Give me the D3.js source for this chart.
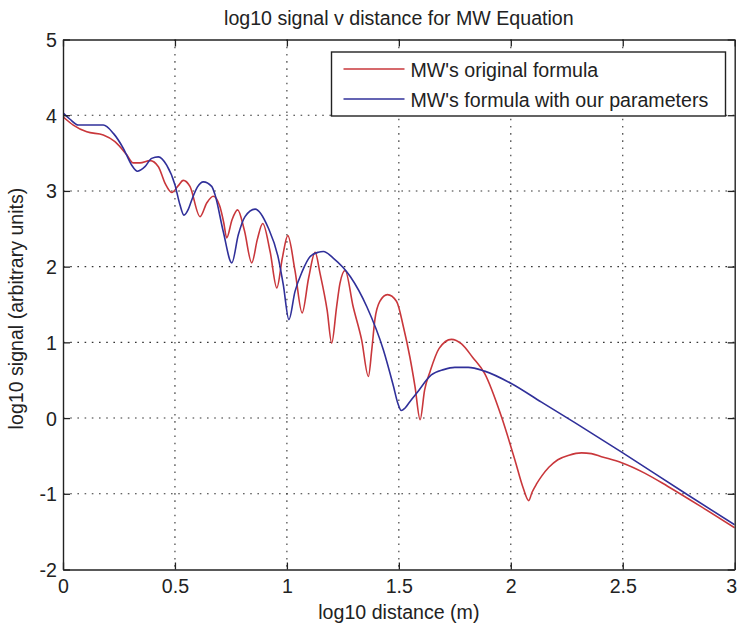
<!DOCTYPE html>
<html><head><meta charset="utf-8">
<script src="https://cdn.jsdelivr.net/npm/d3@7"></script>
<style>
html,body{margin:0;padding:0;background:#fff;}
svg{display:block;font-family:"Liberation Sans",Arial,sans-serif;}
</style></head>
<body>
<svg id="chart" width="738" height="627"></svg>
<script>
// ---- data ----
const title = "log10 signal v distance for MW Equation";
const xLabel = "log10 distance (m)";
const yLabel = "log10 signal (arbitrary units)";
const seriesNames = ["MW's original formula", "MW's formula with our parameters"];
const xTicks = [0, 0.5, 1, 1.5, 2, 2.5, 3];
const xTickLabels = ["0", "0.5", "1", "1.5", "2", "2.5", "3"];
const yTicks = [-2, -1, 0, 1, 2, 3, 4, 5];
const yTickLabels = ["-2", "-1", "0", "1", "2", "3", "4", "5"];

const redX = [0.00,0.046,0.106,0.18,0.232,0.284,0.314,0.344,0.389,0.426,0.456,0.486,0.515,0.537,0.567,0.612,0.642,0.671,0.70,0.718,0.731,0.755,0.78,0.81,0.843,0.868,0.892,0.925,0.955,0.98,1.004,1.036,1.068,1.097,1.126,1.148,1.18,1.20,1.222,1.237,1.26,1.296,1.334,1.364,1.379,1.393,1.415,1.449,1.49,1.52,1.549,1.572,1.595,1.615,1.64,1.68,1.735,1.78,1.83,1.883,1.958,2.018,2.055,2.08,2.095,2.115,2.137,2.17,2.21,2.26,2.316,2.36,2.405,2.495,2.60,2.70,2.85,3.00];
const redY = [3.98,3.87,3.78,3.74,3.65,3.48,3.37,3.37,3.40,3.32,3.10,2.98,3.07,3.14,3.06,2.66,2.84,2.93,2.80,2.58,2.38,2.62,2.75,2.48,2.05,2.36,2.57,2.20,1.72,2.12,2.41,1.95,1.39,1.85,2.19,1.91,1.42,0.99,1.47,1.78,1.95,1.47,1.03,0.55,0.90,1.30,1.54,1.63,1.54,1.21,0.81,0.42,-0.02,0.37,0.62,0.92,1.04,0.98,0.80,0.59,0.02,-0.55,-0.92,-1.09,-0.98,-0.87,-0.77,-0.65,-0.55,-0.49,-0.46,-0.47,-0.51,-0.59,-0.73,-0.90,-1.17,-1.45];

const blueX = [0.00,0.03,0.068,0.12,0.18,0.225,0.27,0.307,0.332,0.366,0.396,0.426,0.463,0.50,0.522,0.54,0.56,0.575,0.60,0.627,0.664,0.679,0.716,0.754,0.783,0.813,0.858,0.917,0.962,0.984,1.009,1.036,1.069,1.103,1.14,1.163,1.208,1.283,1.357,1.431,1.476,1.495,1.511,1.527,1.55,1.58,1.645,1.70,1.75,1.81,1.883,2.00,2.137,2.286,2.495,2.777,3.00];
const blueY = [4.03,3.95,3.87,3.87,3.87,3.76,3.56,3.34,3.26,3.32,3.43,3.45,3.34,3.08,2.82,2.68,2.76,2.88,3.05,3.12,3.06,2.95,2.46,2.05,2.42,2.66,2.76,2.51,2.11,1.76,1.30,1.67,1.94,2.13,2.19,2.20,2.11,1.87,1.47,0.90,0.42,0.20,0.10,0.13,0.22,0.33,0.57,0.64,0.67,0.67,0.62,0.46,0.21,-0.06,-0.45,-0.99,-1.41];

const seriesColors = ["#c9373b", "#30309a"];

// ---- layout ----
const svg = d3.select("#chart");
const X0 = 63, X1 = 734.7, Y0 = 39.5, Y1 = 569.5;
const FS = 19.6;
const x = d3.scaleLinear().domain([0, 3]).range([X0, X1]);
const y = d3.scaleLinear().domain([-2, 5]).range([Y1, Y0]);

svg.append("rect").attr("x",0).attr("y",0).attr("width",738).attr("height",627).attr("fill","#fff");

// grid
const grid = svg.append("g").attr("stroke","#333").attr("stroke-width",1.1).attr("stroke-dasharray","1.6,5.6");
grid.selectAll("line.gx").data(xTicks.filter(v => v > 0 && v < 3)).enter().append("line")
  .attr("x1", d => x(d)).attr("x2", d => x(d)).attr("y1", Y0).attr("y2", Y1);
grid.selectAll("line.gy").data(yTicks.filter(v => v > -2 && v < 5)).enter().append("line")
  .attr("y1", d => y(d)).attr("y2", d => y(d)).attr("x1", X0).attr("x2", X1);

// lines
svg.append("defs").append("clipPath").attr("id","clip").append("rect")
  .attr("x", X0).attr("y", Y0).attr("width", X1 - X0).attr("height", Y1 - Y0);
const line = d3.line().x(d => x(d[0])).y(d => y(d[1])).curve(d3.curveMonotoneX);
const redData = redX.map((v,i) => [v, redY[i]]);
const blueData = blueX.map((v,i) => [v, blueY[i]]);
const lg = svg.append("g").attr("clip-path","url(#clip)");
lg.append("path").datum(redData).attr("d", line).attr("fill","none")
  .attr("stroke", seriesColors[0]).attr("stroke-width",1.6).attr("stroke-linejoin","round");
lg.append("path").datum(blueData).attr("d", line).attr("fill","none")
  .attr("stroke", seriesColors[1]).attr("stroke-width",1.6).attr("stroke-linejoin","round");

// axes
function styleAxis(g) {
  g.selectAll(".domain").attr("stroke","#222").attr("stroke-width",1.4);
  g.selectAll(".tick line").attr("stroke","#222").attr("stroke-width",1.3);
  g.selectAll("text").attr("fill","#222").style("font-size", FS + "px")
    .style("font-family", '"Liberation Sans", Arial, sans-serif');
}
const ax = svg.append("g").attr("transform", `translate(0,${Y1})`)
  .call(d3.axisBottom(x).tickValues(xTicks).tickFormat((d,i) => xTickLabels[i]).tickSize(-7).tickSizeOuter(0).tickPadding(10));
styleAxis(ax);
// keep the last label inside the page edge
ax.selectAll(".tick text").filter(d => d === 3).attr("x", -3.5);
const axT = svg.append("g").attr("transform", `translate(0,${Y0})`)
  .call(d3.axisTop(x).tickValues(xTicks).tickFormat("").tickSize(-7).tickSizeOuter(0));
styleAxis(axT);
const ay = svg.append("g").attr("transform", `translate(${X0},0)`)
  .call(d3.axisLeft(y).tickValues(yTicks).tickFormat((d,i) => yTickLabels[i]).tickSize(-7).tickSizeOuter(0).tickPadding(6));
styleAxis(ay);
ay.selectAll("text").attr("dy","0.36em");
const ayR = svg.append("g").attr("transform", `translate(${X1},0)`)
  .call(d3.axisRight(y).tickValues(yTicks).tickFormat("").tickSize(-7).tickSizeOuter(0));
styleAxis(ayR);

// legend
const LX = 331.5, LY = 52, LW = 394, LH = 64;
const leg = svg.append("g");
leg.append("rect").attr("x", LX).attr("y", LY).attr("width", LW).attr("height", LH)
  .attr("fill","#fff").attr("stroke","#222").attr("stroke-width",1.4);
seriesNames.forEach((name, i) => {
  const cy = LY + 17 + i * 30;
  leg.append("line").attr("x1", LX + 12).attr("x2", LX + 73).attr("y1", cy).attr("y2", cy)
    .attr("stroke", seriesColors[i]).attr("stroke-width",1.6);
  leg.append("text").attr("x", LX + 79).attr("y", cy + 8).attr("fill","#222")
    .style("font-size", FS + "px").text(name);
});

// titles
svg.append("text").attr("x", (X0 + X1) / 2).attr("y", 25).attr("text-anchor","middle")
  .attr("fill","#222").style("font-size", FS + "px").text(title);
svg.append("text").attr("x", (X0 + X1) / 2).attr("y", 619).attr("text-anchor","middle")
  .attr("fill","#222").style("font-size", FS + "px").text(xLabel);
svg.append("text").attr("transform", `translate(23,${(Y0 + Y1) / 2 + 4}) rotate(-90)`).attr("text-anchor","middle")
  .attr("fill","#222").style("font-size", FS + "px").text(yLabel);
</script>
</body></html>
